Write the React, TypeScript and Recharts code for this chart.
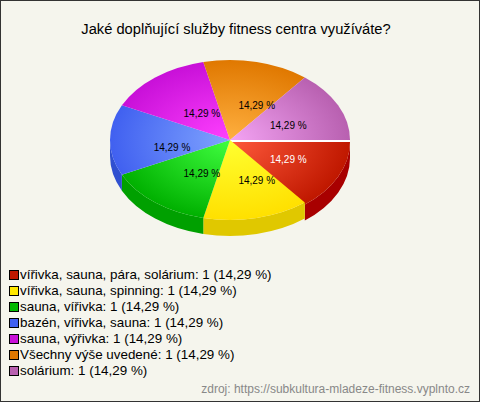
import { PieChart, Pie, Cell, Legend } from 'recharts';

const answers = [
  'vířivka, sauna, pára, solárium',
  'vířivka, sauna, spinning',
  'sauna, vířivka',
  'bazén, vířivka, sauna',
  'sauna, výřivka',
  'Všechny výše uvedené',
  'solárium',
];
const counts = [1, 1, 1, 1, 1, 1, 1];
const percents = ['14,29 %', '14,29 %', '14,29 %', '14,29 %', '14,29 %', '14,29 %', '14,29 %'];

const centerColors = ['#ff5a3c', '#ffff30', '#40ff40', '#80a4ff', '#ff40ff', '#ffb040', '#f4a4f4'];
const edgeColors = ['#c01800', '#ffe000', '#00b000', '#4060f0', '#c810d8', '#e07800', '#b860b0'];
const wallColors = ['#a80000', '#e0c800', '#00a000', '#3050d0', '#a000b0', '#b86000', '#904890'];
const swatchColors = ['#c01800', '#ffe800', '#00b800', '#4060f0', '#c810d8', '#e07800', '#b860b0'];

const chartData = answers.map((name, i) => ({ name, value: counts[i], idx: i }));

// chart sits inside the 1px frame, so everything is one pixel less than on the picture
const CX = 229;
const CY = 139;
const RX = 120;
const RY = 80;
const DEPTH = 16;
const FONT = '"Liberation Sans", Arial, sans-serif';

const pt = (deg: number, dy = 0) => {
  const a = (-deg * Math.PI) / 180;
  return [CX + RX * Math.cos(a), CY + dy + RY * Math.sin(a)];
};

// flat ellipse slice plus its side wall, angles come from the Pie
const Slice3D = (props: any) => {
  const idx = props.payload?.idx ?? props.idx ?? 0;
  const start = props.startAngle;
  const end = props.endAngle;
  const shift = idx === 0 ? 2 : 0;
  const [x0, y0] = pt(start, shift);
  const [x1, y1] = pt(end, shift);
  const large = Math.abs(end - start) > 180 ? 1 : 0;
  const top = `M${CX},${CY + shift} L${x0},${y0} A${RX},${RY} 0 ${large} 1 ${x1},${y1} Z`;

  // only the front half of the rim shows
  const wStart = Math.max(-start, 0);
  const wEnd = Math.min(-end, 180);
  let wall = null;
  if (wEnd > wStart) {
    const [ax, ay] = pt(-wStart, shift);
    const [bx, by] = pt(-wEnd, shift);
    wall = (
      <path
        d={`M${ax},${ay} A${RX},${RY} 0 0 1 ${bx},${by} L${bx},${by + DEPTH} A${RX},${RY} 0 0 0 ${ax},${ay + DEPTH} Z`}
        fill={wallColors[idx]}
      />
    );
  }
  return (
    <g>
      {wall}
      <path d={top} fill={`url(#slice${idx})`} />
      {idx === 0 && <line x1={CX} y1={CY + 1} x2={x0} y2={y0 - 1} stroke="#ffffff" strokeWidth={2} />}
    </g>
  );
};

const renderLabel = (props: any) => {
  const a = (-props.midAngle * Math.PI) / 180;
  const c = Math.cos(a);
  const s = Math.sin(a);
  const x = CX + 60 * c + 2 + 12 * s * s;
  const y = CY + 38.5 * s + 2.6 + 5 * Math.pow(Math.max(0, -c), 4);
  return (
    <text
      x={x}
      y={y}
      textAnchor="middle"
      dominantBaseline="central"
      fontSize={10}
      fontFamily={FONT}
      fill={props.index === 0 ? '#ffffff' : '#000000'}
    >
      {percents[props.index]}
    </text>
  );
};

const renderLegend = () => (
  <div style={{ fontFamily: FONT, fontSize: 13.4, lineHeight: '16px', color: '#000' }}>
    {answers.map((name, i) => (
      <div key={name} style={{ display: 'flex', alignItems: 'center', height: 16, whiteSpace: 'nowrap' }}>
        <span
          style={{
            width: 8,
            height: 8,
            border: '1px solid #000',
            background: swatchColors[i],
            marginRight: 1,
          }}
        />
        {`${name}: ${counts[i]} (${percents[i]})`}
      </div>
    ))}
  </div>
);

export default function App() {
  return (
    <div
      style={{
        position: 'absolute',
        left: 0,
        top: 0,
        width: 478,
        height: 400,
        background: '#f5f5ed',
        border: '1px solid #333',
      }}
    >
      <PieChart width={478} height={400} margin={{ top: 0, right: 0, bottom: 0, left: 0 }}>
        <defs>
          {centerColors.map((color, i) => (
            <radialGradient
              key={i}
              id={`slice${i}`}
              gradientUnits="userSpaceOnUse"
              cx={0}
              cy={0}
              r={1}
              gradientTransform={`translate(${CX} ${CY}) scale(${RX} ${RY})`}
            >
              <stop offset="0%" stopColor={color} />
              <stop offset="100%" stopColor={edgeColors[i]} />
            </radialGradient>
          ))}
        </defs>
        <text x={235} y={33} textAnchor="middle" fontSize={14.7} fontFamily={FONT} fill="#000">
          Jaké doplňující služby fitness centra využíváte?
        </text>
        <Pie
          data={chartData}
          dataKey="value"
          nameKey="name"
          cx={CX}
          cy={CY}
          outerRadius={RX}
          startAngle={0}
          endAngle={-360}
          paddingAngle={0}
          stroke="none"
          shape={Slice3D}
          activeShape={Slice3D}
          inactiveShape={Slice3D}
          label={renderLabel}
          labelLine={false}
          isAnimationActive={false}
        >
          {chartData.map((d) => (
            <Cell key={d.name} fill={swatchColors[d.idx]} />
          ))}
        </Pie>
        <Legend
          content={renderLegend}
          layout="vertical"
          align="left"
          verticalAlign="top"
          wrapperStyle={{ left: 8, top: 266, width: 400 }}
        />
        <text x={469} y={392} textAnchor="end" fontSize={12} fontFamily={FONT} fill="#888">
          zdroj: https://subkultura-mladeze-fitness.vyplnto.cz
        </text>
      </PieChart>
    </div>
  );
}
